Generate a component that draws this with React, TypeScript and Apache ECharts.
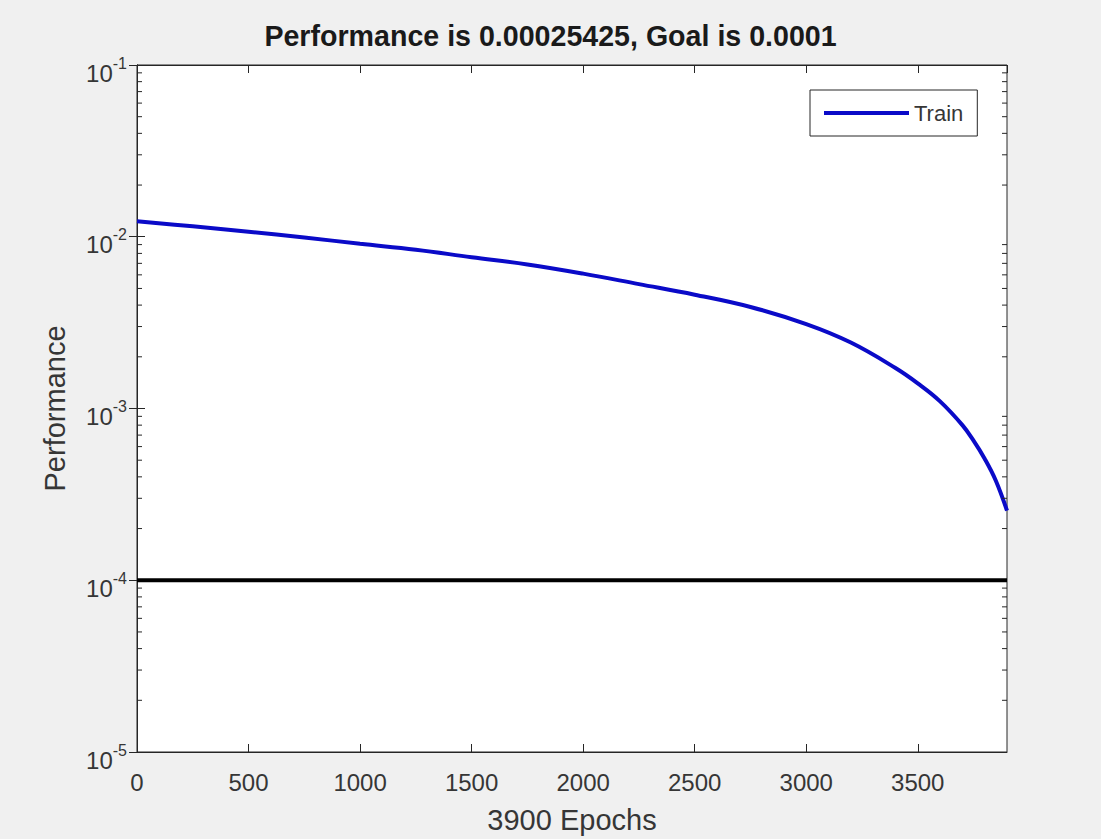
import React, { useEffect, useRef } from "react";
import * as echarts from "echarts";

const epochs = [0, 250, 500, 750, 1000, 1250, 1500, 1750, 2000, 2250, 2500, 2750, 3000, 3200, 3400, 3500, 3600, 3700, 3750, 3800, 3850, 3900];
const trainPerf = [0.0123, 0.0115, 0.0107, 0.0099, 0.0091, 0.0084, 0.0076, 0.0069, 0.0061, 0.0053, 0.0046, 0.0039, 0.0031, 0.00242, 0.00172, 0.0014, 0.0011, 0.0008, 0.00065, 0.00051, 0.00038, 0.00025425];
const goalValue = 0.0001;
const xTicks = [0, 500, 1000, 1500, 2000, 2500, 3000, 3500];
const yDecades = [1e-5, 1e-4, 1e-3, 1e-2, 1e-1];
const minorMultipliers = [2, 3, 4, 5, 6, 7, 8, 9];
const titleText = "Performance is 0.00025425, Goal is 0.0001";
const xName = "3900 Epochs";
const yName = "Performance";
const xMax = 3900;

const FONT = "'Liberation Sans', Arial, Helvetica, sans-serif";
const AX = "#262626";
const TXT = "#363636";

export default function App() {
  const ref = useRef<HTMLDivElement>(null);
  useEffect(() => {
    if (!ref.current) return;
    const chart = echarts.init(ref.current, null, { renderer: "svg" });
    const minorVals: number[][] = [];
    yDecades.slice(0, -1).forEach((d) => minorMultipliers.forEach((m) => minorVals.push([0, d * m])));
    const axisCommon = {
      axisLine: { show: true, lineStyle: { color: AX, width: 1 } },
      splitLine: { show: false },
    };
    chart.setOption({
      animation: false,
      backgroundColor: "#f0f0f0",
      textStyle: { fontFamily: FONT },
      title: {
        text: titleText,
        left: "center",
        top: 21,
        padding: [0, 0, 0, 16],
        textStyle: { fontSize: 28.6, fontWeight: "bold", color: "#1a1a1a", fontFamily: FONT },
      },
      grid: {
        left: 137,
        right: 94,
        top: 65,
        bottom: 85,
        show: true,
        backgroundColor: "#ffffff",
        borderColor: AX,
        borderWidth: 1,
      },
      legend: {
        data: [{ name: "Train", icon: "rect" }],
        left: 810,
        top: 90,
        itemWidth: 85,
        itemHeight: 4,
        itemGap: 8,
        padding: [12, 14, 12, 14],
        backgroundColor: "#ffffff",
        borderColor: AX,
        borderWidth: 1,
        borderRadius: 0,
        textStyle: { fontSize: 22, color: TXT, fontFamily: FONT },
      },
      xAxis: [
        {
          type: "value",
          min: 0,
          max: xMax,
          interval: 500,
          name: xName,
          nameLocation: "middle",
          nameGap: 53,
          nameTextStyle: { fontSize: 29, color: TXT, fontFamily: FONT },
          ...axisCommon,
          axisTick: { show: true, inside: true, length: 8, lineStyle: { color: AX } },
          axisLabel: {
            fontSize: 24,
            color: TXT,
            margin: 18,
            fontFamily: FONT,
            showMaxLabel: false,
            formatter: (v: number) => (xTicks.includes(v) ? String(v) : ""),
          },
        },
        {
          type: "value",
          position: "top",
          min: 0,
          max: xMax,
          interval: 500,
          ...axisCommon,
          axisTick: { show: true, inside: true, length: 8, lineStyle: { color: AX } },
          axisLabel: { show: false },
        },
      ],
      yAxis: [
        {
          type: "log",
          logBase: 10,
          min: yDecades[0],
          max: yDecades[yDecades.length - 1],
          name: yName,
          nameLocation: "middle",
          nameGap: 68,
          nameTextStyle: { fontSize: 29, color: TXT, fontFamily: FONT },
          ...axisCommon,
          axisTick: { show: true, inside: true, length: 8, lineStyle: { color: AX } },
          axisLabel: {
            color: TXT,
            margin: 10,
            fontFamily: FONT,
            padding: [10, 0, 0, 0],
            formatter: (v: number) => `{b|10}{s|${Math.round(Math.log10(v))}}`,
            rich: {
              b: { fontSize: 24, color: TXT, fontFamily: FONT, verticalAlign: "bottom", lineHeight: 30 },
              s: { fontSize: 16, color: TXT, fontFamily: FONT, verticalAlign: "top", lineHeight: 30 },
            },
          },
        },
        {
          type: "log",
          logBase: 10,
          position: "right",
          min: yDecades[0],
          max: yDecades[yDecades.length - 1],
          ...axisCommon,
          axisTick: { show: true, inside: true, length: 8, lineStyle: { color: AX } },
          axisLabel: { show: false },
        },
      ],
      series: [
        {
          name: "Train",
          type: "line",
          xAxisIndex: 0,
          yAxisIndex: 0,
          data: epochs.map((e, i) => [e, trainPerf[i]]),
          showSymbol: false,
          smooth: 0.4,
          lineStyle: { color: "#0a0ac8", width: 4 },
          itemStyle: { color: "#0a0ac8" },
          z: 3,
        },
        {
          name: "Goal",
          type: "line",
          xAxisIndex: 0,
          yAxisIndex: 0,
          data: [[0, goalValue], [xMax, goalValue]],
          showSymbol: false,
          lineStyle: { color: "#000000", width: 4 },
          itemStyle: { color: "#000000" },
          z: 2,
        },
        {
          name: "minorTicks",
          type: "custom",
          xAxisIndex: 0,
          yAxisIndex: 0,
          data: minorVals,
          silent: true,
          z: 4,
          renderItem: (_p: any, api: any) => {
            const v = api.value(1);
            const l = api.coord([0, v]);
            const r = api.coord([xMax, v]);
            return {
              type: "group",
              children: [
                { type: "line", shape: { x1: l[0], y1: l[1], x2: l[0] + 5, y2: l[1] }, style: { stroke: AX, lineWidth: 1 } },
                { type: "line", shape: { x1: r[0] - 5, y1: r[1], x2: r[0], y2: r[1] }, style: { stroke: AX, lineWidth: 1 } },
              ],
            };
          },
        },
      ],
    });
    return () => chart.dispose();
  }, []);
  return <div ref={ref} style={{ position: "fixed", left: 0, top: 0, width: 1101, height: 839 }} />;
}
